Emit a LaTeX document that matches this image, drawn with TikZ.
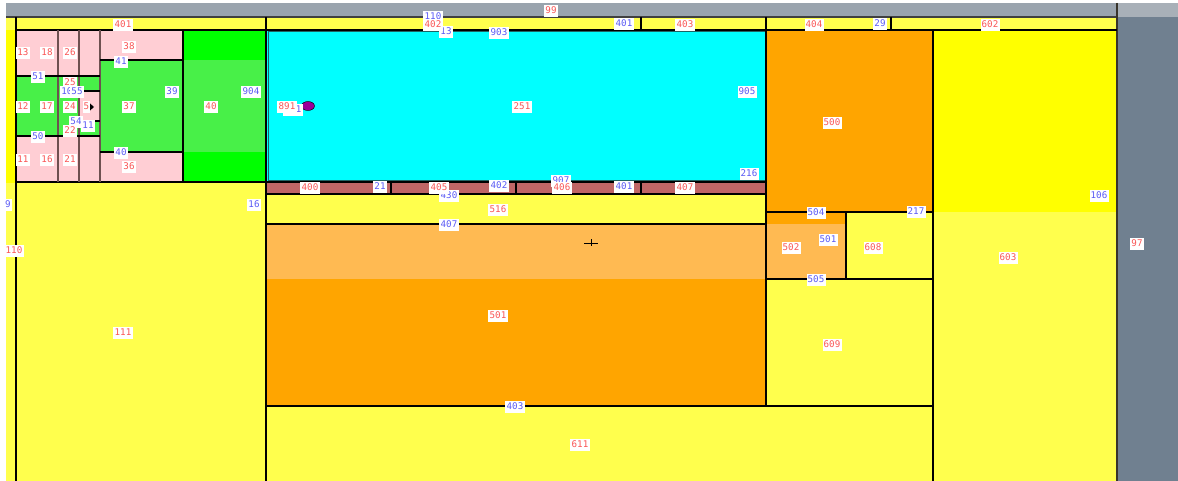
\documentclass[tikz,border=0pt]{standalone}
\usepackage{fontspec}
\newfontfamily\lblfont{DejaVu Sans Mono}
\usetikzlibrary{shapes.geometric}
\definecolor{ly}{RGB}{255,255,77}
\definecolor{by}{RGB}{255,255,0}
\definecolor{pk}{RGB}{255,206,212}
\definecolor{bg}{RGB}{0,255,0}
\definecolor{lg}{RGB}{72,240,72}
\definecolor{cy}{RGB}{0,255,255}
\definecolor{br}{RGB}{192,102,102}
\definecolor{lo}{RGB}{255,186,82}
\definecolor{og}{RGB}{255,165,0}
\definecolor{gbar}{RGB}{154,164,174}
\definecolor{gbar2}{RGB}{168,176,184}
\definecolor{sg}{RGB}{112,128,144}
\definecolor{lred}{RGB}{250,85,85}
\definecolor{lblue}{RGB}{90,90,245}
\definecolor{cyb}{RGB}{30,100,100}
\definecolor{pkline}{RGB}{110,80,80}
\tikzset{
  lab/.style={fill=white,inner xsep=1.2pt,inner ysep=1.5pt,text height=7pt,text depth=1.8pt,font=\lblfont\fontsize{9.2}{10}\selectfont},
  lr/.style={lab,text=lred},
  lb/.style={lab,text=lblue},
  wall/.style={draw=black,line width=1.1pt},
  thin/.style={draw=pkline,line width=1.1pt}
}
\begin{document}
\begin{tikzpicture}[x=1pt,y=-1pt]
\useasboundingbox (0,0) rectangle (1178,481);
\fill[white] (0,0) rectangle (1178,481);
% gray bars
\fill[gbar] (6,3) rectangle (1117,17);
\fill[gbar2] (1117,3) rectangle (1178,17);
\fill[sg] (1117,17) rectangle (1178,481);
% left strip
\fill[ly] (6,17) rectangle (16,481);
\fill[by] (6,30) rectangle (16,183);
% top band
\fill[ly] (16,17) rectangle (1117,30);
% pink/green block
\fill[pk] (16,30) rectangle (183,182);
\fill[lg] (16,76) rectangle (100,136);
\fill[pk] (79,91) rectangle (100,121);
\fill[lg] (100,60) rectangle (183,152);
\fill[bg] (183,30) rectangle (266,182);
\fill[lg] (183,60) rectangle (266,152);
% cyan
\fill[cy] (266,30) rectangle (766,182);
\draw[cyb,line width=1pt] (268,31.5) rectangle (765,181);
% brown band, bands
\fill[br] (266,182) rectangle (766,194);
\fill[ly] (266,194) rectangle (766,224);
\fill[lo] (266,224) rectangle (766,279);
\fill[og] (266,279) rectangle (766,406);
\fill[ly] (16,182) rectangle (266,481);
\fill[ly] (266,406) rectangle (933,481);
% right blocks
\fill[og] (766,30) rectangle (933,224);
\fill[lo] (766,224) rectangle (846,279);
\fill[ly] (846,212) rectangle (933,279);
\fill[ly] (766,279) rectangle (933,406);
\fill[by] (933,30) rectangle (1117,212);
\fill[ly] (933,212) rectangle (1117,481);
% walls
\draw[line width=1.2pt,black!75] (6,17) -- (1117,17);
\draw[line width=1.4pt,black!80!olive] (1117,3) -- (1117,481);
\draw[wall] (16,17) -- (16,481);
\draw[wall] (16,30) -- (1117,30);
\draw[wall] (266,17) -- (266,30) (641,17) -- (641,30) (766,17) -- (766,30) (891,17) -- (891,30);
\draw[wall] (266,30) -- (266,481);
\draw[wall] (16,182) -- (766,182);
\draw[wall] (766,30) -- (766,406);
\draw[wall] (266,194) -- (766,194);
\draw[wall] (266,224) -- (766,224);
\draw[wall] (266,406) -- (933,406);
\draw[wall] (933,30) -- (933,481);
\draw[wall] (766,212) -- (933,212);
\draw[wall] (846,212) -- (846,279);
\draw[wall] (766,279) -- (933,279);
\draw[wall] (391,182) -- (391,194) (516,182) -- (516,194) (641,182) -- (641,194);
\draw[thin] (58,30) -- (58,182) (79,30) -- (79,182) (100,30) -- (100,182);
\draw[wall] (183,30) -- (183,182);
\draw[wall] (16,76) -- (100,76) (16,136) -- (100,136);
\draw[wall] (79,91) -- (100,91) (79,121) -- (100,121);
\draw[wall] (100,60) -- (183,60) (100,152) -- (183,152);
% marks
\fill[black] (89.5,103) -- (94,107) -- (89.5,111) -- cycle;
\draw[black,fill=violet!80!magenta] (308,106) ellipse [x radius=6.5, y radius=4.5];
\draw[black,line width=0.8pt] (584,243) -- (598,243) (591,239.5) -- (591,246.5);
% labels top band
\node[lb] (t110) at (433,17) {110};
\node[lb] (t13) at (446,32) {13};
\node[lr] (t402) at (433,25) {402};
\node[lb] (t903) at (499,33) {903};
\node[lr] (t401) at (123,25) {401};
\node[lr] (t99) at (551,11) {99};
\node[lb] (t401b) at (624,24) {401};
\node[lr] (t403) at (685,25) {403};
\node[lr] (t404) at (814,25) {404};
\node[lb] (t29) at (880,24) {29};
\node[lr] (t602) at (990,25) {602};
% pink block labels
\node[lr] (p13) at (23,53) {13};
\node[lr] (p18) at (47,53) {18};
\node[lr] (p26) at (70,53) {26};
\node[lr] (p38) at (129,47) {38};
\node[lb] (p51) at (38,77) {51};
\node[lb] (p41) at (121,62) {41};
\node[lr] (p25) at (70,83) {25};
\node[lb] (p10) at (67,92) {10};
\node[lb] (p55) at (77,92) {55};
\node[lr] (p12) at (23,107) {12};
\node[lr] (p17) at (47,107) {17};
\node[lr] (p24) at (70,107) {24};
\node[lr] (p5) at (86.5,107) {5};
\node[lr] (p37) at (129,107) {37};
\node[lb] (p39) at (172,92) {39};
\node[lr] (p40) at (211,107) {40};
\node[lb] (p904) at (251,92) {904};
\node[lb] (p54) at (76,122) {54};
\node[lr] (p22) at (70,131) {22};
\node[lb] (p11b) at (88,126) {11};
\node[lb] (p50) at (38,137) {50};
\node[lb] (p40b) at (121,153) {40};
\node[lr] (p11) at (23,160) {11};
\node[lr] (p16) at (47,160) {16};
\node[lr] (p21) at (70,160) {21};
\node[lr] (p36) at (129,167) {36};
% cyan
\node[lb] (c1) at (293,110) {\phantom{00}1};
\node[lr] (c891) at (287,107) {891};
\node[lr] (c251) at (522,107) {251};
\node[lb] (c905) at (747,92) {905};
\node[lb] (c216) at (749,174) {216};
% brown band
\node[lr] (b400) at (310,188) {400};
\node[lb] (b21) at (380,187) {21};
\node[lb] (b430) at (449,196) {430};
\node[lr] (b405) at (439,188) {405};
\node[lb] (b402) at (499,186) {402};
\node[lb] (b907) at (561,181) {907};
\node[lr] (b406) at (562,188) {406};
\node[lb] (b401) at (624,187) {401};
\node[lr] (b407) at (685,188) {407};
% middle
\node[lr] (m516) at (498,210) {516};
\node[lb] (m407) at (449,225) {407};
\node[lb] (m16) at (254,205) {16};
\node[lb] (m9) at (8,205) {9};
\node[lr] (m110) at (14,251) {110};
\node[lr] (m111) at (123,333) {111};
\node[lr] (m501) at (498,316) {501};
\node[lb] (m403) at (515,407) {403};
\node[lr] (m611) at (580,445) {611};
% right
\node[lr] (r500) at (832,123) {500};
\node[lb] (r106) at (1099,196) {106};
\node[lb] (r504) at (816,213) {504};
\node[lb] (r217) at (916,212) {217};
\node[lb] (r501) at (828,240) {501};
\node[lr] (r502) at (791,248) {502};
\node[lr] (r608) at (873,248) {608};
\node[lb] (r505) at (816,280) {505};
\node[lr] (r609) at (832,345) {609};
\node[lr] (r603) at (1008,258) {603};
\node[lr] (r97) at (1137,244) {97};
\end{tikzpicture}
\end{document}
